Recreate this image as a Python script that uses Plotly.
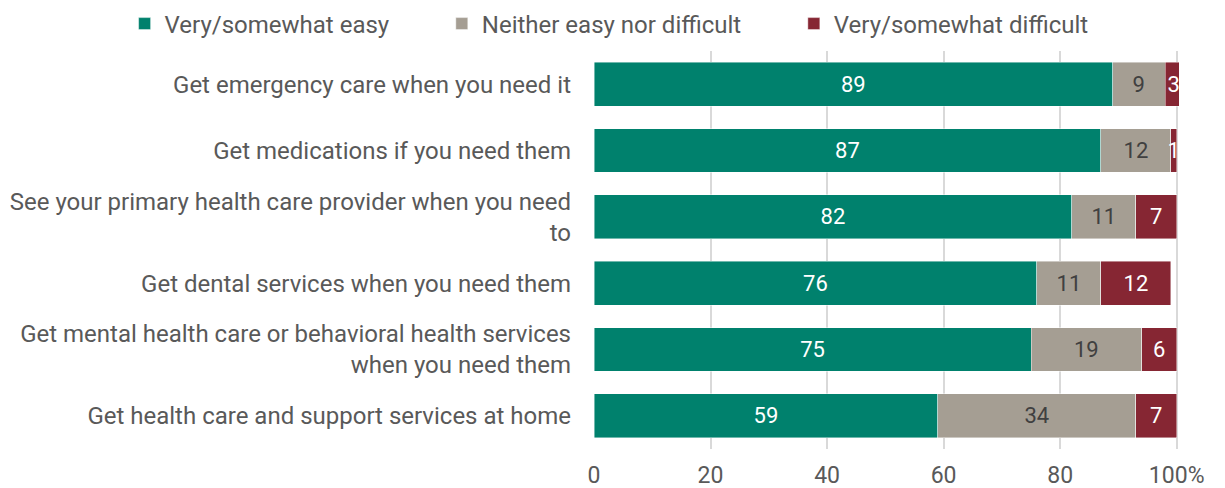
import plotly.graph_objects as go

# Survey items (top to bottom)
categories = [
    "Get emergency care when you need it",
    "Get medications if you need them",
    "See your primary health care provider when you need<br>to",
    "Get dental services when you need them",
    "Get mental health care or behavioral health services<br>when you need them",
    "Get health care and support services at home",
]

# Percent of respondents per response group
easy = [89, 87, 82, 76, 75, 59]
neither = [9, 12, 11, 11, 19, 34]
difficult = [3, 1, 7, 12, 6, 7]

series_names = ["Very/somewhat easy", "Neither easy nor difficult", "Very/somewhat difficult"]
tick_vals = [0, 20, 40, 60, 80, 100]
tick_text = ["0", "20", "40", "60", "80", "100%"]

colors = ["#00816D", "#A59E93", "#862633"]
label_colors = ["#FFFFFF", "#404040", "#FFFFFF"]
pad = "\u00a0" * 8

W, H = 1225, 488
ML, MR, MT, MB = 46, 46, 51, 39
plot_left = 594  # left edge of the bar area in pixels
x_start = (plot_left - ML) / (W - ML - MR)

TEXT = "#595959"

fig = go.Figure()
for i, (name, vals) in enumerate(zip(series_names, [easy, neither, difficult])):
    fig.add_trace(go.Bar(
        y=categories,
        x=vals,
        name=name + (pad if i < 2 else ""),
        orientation="h",
        width=0.66,
        marker=dict(color=colors[i], line=dict(color="rgba(255,255,255,0.55)", width=0.8)),
        text=[str(v) for v in vals],
        textposition="inside",
        insidetextanchor="middle",
        textangle=0,
        textfont=dict(family="Roboto", size=22, color=label_colors[i]),
        cliponaxis=True,
    ))

fig.update_layout(
    barmode="stack",
    width=W,
    height=H,
    margin=dict(l=ML, r=MR, t=MT, b=MB),
    paper_bgcolor="white",
    plot_bgcolor="white",
    font=dict(family="Roboto", size=24, color=TEXT),
    uniformtext=dict(minsize=22, mode="show"),
    legend=dict(
        orientation="h",
        xref="paper", yref="container",
        x=0.497, xanchor="center",
        y=1 - 24 / H, yanchor="middle",
        font=dict(family="Roboto", size=24, color=TEXT),
        traceorder="normal",
    ),
    xaxis=dict(
        domain=[x_start, 1],
        range=[0, 100.4],
        tickvals=tick_vals,
        ticktext=tick_text,
        showgrid=True,
        gridcolor="#D9D9D9",
        gridwidth=2,
        zeroline=False,
        showline=False,
        ticks="",
        ticklabelstandoff=10,
        tickfont=dict(family="Roboto", size=23, color=TEXT),
        fixedrange=True,
        automargin=False,
    ),
    yaxis=dict(
        categoryorder="array",
        categoryarray=categories,
        autorange="reversed",
        showgrid=False,
        zeroline=False,
        showline=False,
        ticks="",
        ticklabelstandoff=22,
        tickfont=dict(family="Roboto", size=24, color=TEXT),
        fixedrange=True,
        automargin=False,
    ),
)

fig.write_html("out.html")
